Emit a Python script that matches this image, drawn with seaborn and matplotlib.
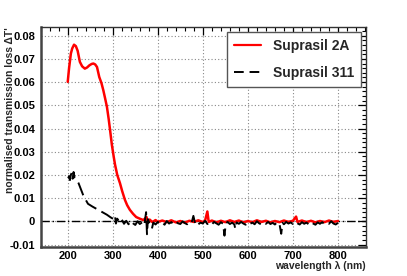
import matplotlib
matplotlib.use("Agg")
import matplotlib.pyplot as plt
import seaborn as sns
import pandas as pd
from matplotlib.ticker import MultipleLocator, FuncFormatter

# ---------------- data ----------------
red_wl = [200, 203, 207, 210, 214, 218, 222, 227, 232, 238,
          243, 248, 253, 257, 261, 265, 270, 275, 279, 283,
          287, 291, 294, 298, 302, 305, 310, 316, 321, 327,
          332, 338, 345, 352, 360, 368, 375, 378, 382, 388,
          395, 400, 410, 420, 430, 440, 450, 460, 470, 480,
          490, 500, 505, 510, 513, 520, 530, 540, 550, 560,
          570, 580, 590, 600, 610, 620, 630, 640, 650, 660,
          670, 680, 690, 700, 707, 710, 720, 730, 740, 750,
          760, 770, 780, 790, 800]
red_val = [0.0601, 0.0660, 0.0723, 0.0745, 0.0761, 0.0755, 0.0735, 0.0687, 0.0668, 0.0658,
           0.0663, 0.0672, 0.0678, 0.0680, 0.0676, 0.0665, 0.0622, 0.0595, 0.0565, 0.0530,
           0.0494, 0.0440, 0.0394, 0.0330, 0.0280, 0.0245, 0.0200, 0.0165, 0.0130, 0.0093,
           0.0070, 0.0050, 0.0033, 0.0019, 0.0012, 0.0006, 0.0019, -0.0004, 0.0008, -0.0003,
           0.0006, -0.0002, 0.0004, -0.0003, 0.0005, -0.0004, 0.0002, -0.0005, 0.0003, -0.0002,
           0.0005, -0.0003, 0.0004, 0.0043, -0.0002, 0.0004, -0.0004, 0.0003, -0.0003, 0.0005,
           -0.0002, 0.0004, -0.0004, 0.0002, -0.0003, 0.0005, -0.0002, 0.0003, -0.0004, 0.0002,
           -0.0003, 0.0004, -0.0002, 0.0003, 0.0021, -0.0002, 0.0004, -0.0003, 0.0003, -0.0004,
           0.0002, -0.0003, 0.0004, -0.0002, 0.0002]

black_wl = [201, 203, 205, 207, 209, 211, 213, 215, 218, 220,
            224, 227, 231, 234, 240, 245, 255, 265, 275, 287,
            295, 302, 305, 307, 310, 315, 320, 325, 330, 335,
            340, 345, 350, 355, 360, 365, 370, 374, 376, 378,
            382, 387, 390, 395, 400, 405, 410, 415, 420, 425,
            430, 435, 440, 445, 450, 455, 460, 465, 470, 475,
            479, 483, 487, 490, 495, 500, 505, 510, 515, 520,
            525, 530, 535, 540, 545, 548, 551, 555, 560, 565,
            570, 572, 575, 580, 585, 590, 595, 600, 605, 610,
            615, 620, 625, 630, 635, 640, 645, 650, 655, 660,
            665, 670, 674, 677, 680, 685, 690, 695, 700, 705,
            710, 715, 720, 725, 730, 735, 740, 745, 750, 755,
            760, 765, 770, 775, 780, 785, 790, 795, 800]
black_val = [0.0186, 0.0195, 0.0178, 0.0201, 0.0210, 0.0184, 0.0213, 0.0190, 0.0185, 0.0179,
             0.0165, 0.0150, 0.0130, 0.0115, 0.0093, 0.0076, 0.0064, 0.0053, 0.0042, 0.0029,
             0.0018, 0.0010, 0.0024, -0.0009, 0.0012, -0.0004, 0.0008, -0.0010, 0.0003, -0.0012,
             0.0002, -0.0008, -0.0015, 0.0001, -0.0011, -0.0004, -0.0016, 0.0040, -0.0055, 0.0010,
             -0.0012, -0.0030, -0.0005, -0.0013, -0.0002, -0.0010, -0.0004, -0.0014, 0.0002, -0.0009,
             -0.0003, -0.0012, -0.0001, -0.0008, -0.0011, 0.0000, -0.0007, -0.0012, -0.0002, -0.0006,
             0.0024, -0.0010, -0.0003, -0.0012, -0.0005, -0.0009, 0.0003, -0.0011, -0.0004, -0.0013,
             -0.0002, -0.0008, -0.0014, -0.0003, -0.0010, -0.0061, -0.0008, -0.0002, -0.0011, -0.0005,
             -0.0013, -0.0032, -0.0004, -0.0010, -0.0002, -0.0009, -0.0014, -0.0003, -0.0010, -0.0005,
             -0.0012, 0.0001, -0.0008, -0.0013, -0.0004, -0.0010, -0.0002, -0.0011, -0.0006, -0.0013,
             -0.0003, -0.0009, -0.0053, -0.0006, -0.0012, -0.0002, -0.0009, -0.0004, -0.0011, -0.0001,
             -0.0008, -0.0013, -0.0003, -0.0010, -0.0005, -0.0012, -0.0002, -0.0009, -0.0014, -0.0004,
             -0.0010, -0.0003, -0.0012, -0.0006, -0.0010, 0.0001, -0.0009, -0.0013, -0.0006]

series_names = ["Suprasil 2A", "Suprasil 311"]
x_ticks = [200, 300, 400, 500, 600, 700, 800]
y_ticks = [-0.01, 0.0, 0.01, 0.02, 0.03, 0.04, 0.05, 0.06, 0.07, 0.08]
x_label = "wavelength \u03bb (nm)"
y_label = "normalised transmission loss \u0394T'"

# ---------------- style ----------------
sns.set_style("white")
plt.rcParams["font.family"] = ["Liberation Sans", "DejaVu Sans"]
plt.rcParams["font.weight"] = "bold"

fig = plt.figure(figsize=(4.07, 2.76), dpi=100)
ax = fig.add_axes([0.100, 0.105, 0.799, 0.797])

df_red = pd.DataFrame({"wl": red_wl, "val": red_val})
df_black = pd.DataFrame({"wl": black_wl, "val": black_val})

# zero reference line
ax.axhline(0, color="black", lw=1.0, ls=(0, (6, 2, 1, 2)), zorder=1)

sns.lineplot(data=df_red, x="wl", y="val", ax=ax, color="#ff0000", lw=1.8,
             label=series_names[0], zorder=3, estimator=None, sort=False)
sns.lineplot(data=df_black, x="wl", y="val", ax=ax, color="black", lw=1.4,
             label=series_names[1], zorder=4, estimator=None, sort=False)
ax.lines[-1].set_dashes([7, 3])

ax.set_xlim(140, 862)
ax.set_ylim(-0.011, 0.0837)
ax.set_xticks(x_ticks)
ax.set_yticks(y_ticks)
ax.xaxis.set_minor_locator(MultipleLocator(20))
ax.yaxis.set_minor_locator(MultipleLocator(0.002))
ax.yaxis.set_major_formatter(FuncFormatter(lambda v, p: "0" if abs(v) < 1e-9 else f"{v:.2f}"))

ax.grid(True, which="major", color="#888888", lw=0.8, ls=(0, (1, 2)))
ax.tick_params(which="both", direction="in", top=True, right=True, labelsize=8, pad=4,
               colors="black")
ax.tick_params(axis="x", which="both", pad=3)
ax.tick_params(which="major", length=6, width=0.9)
ax.tick_params(which="minor", length=3, width=0.8)
for lab in ax.get_xticklabels() + ax.get_yticklabels():
    lab.set_fontweight("bold")

for s in ["top", "right"]:
    ax.spines[s].set_linewidth(1.0)
    ax.spines[s].set_color("#333333")
for s in ["left", "bottom"]:
    ax.spines[s].set_linewidth(1.8)
    ax.spines[s].set_color("#444444")

ax.set_xlabel(x_label, fontsize=7.5, fontweight="bold", loc="right")
ax.set_ylabel(y_label, fontsize=7.5, fontweight="bold", loc="top")
ax.xaxis.set_label_coords(1.0, -0.062)
ax.yaxis.set_label_coords(-0.078, 1.0)

leg = ax.legend(loc="upper left", bbox_to_anchor=(0.572, 0.976),
                prop={"weight": "bold", "size": 10}, frameon=True, fancybox=False,
                handlelength=2.0, handletextpad=0.8, labelspacing=0.9,
                borderpad=0.5, borderaxespad=0)
leg.get_frame().set_edgecolor("#555555")
leg.get_frame().set_linewidth(1.0)
leg.get_frame().set_alpha(1)
leg.legend_handles[1].set_dashes([5, 3])
leg.legend_handles[0].set_linewidth(1.6)

fig.savefig("out.png", dpi=100)
